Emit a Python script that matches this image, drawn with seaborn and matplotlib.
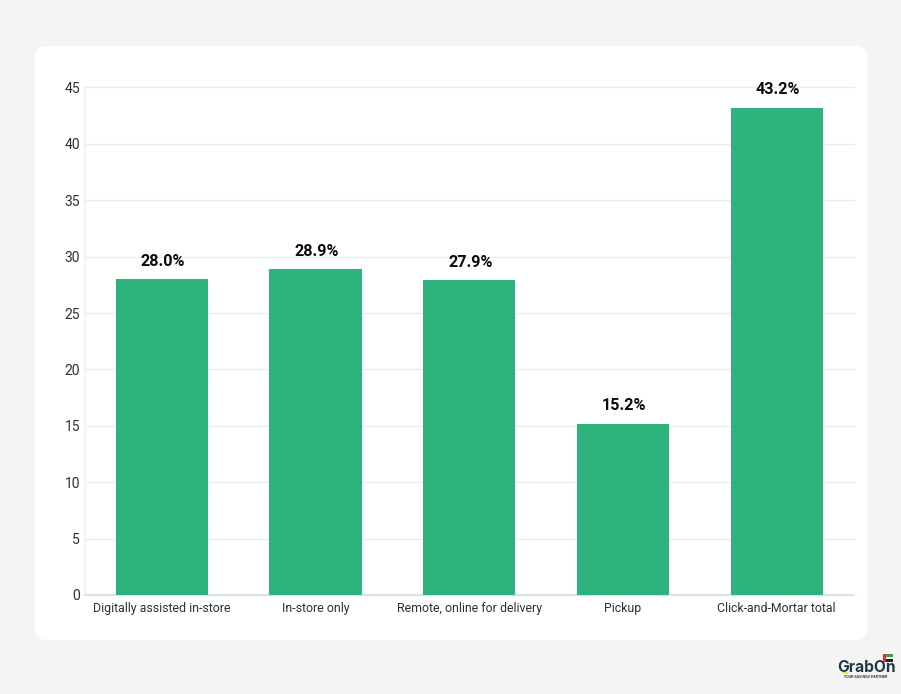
import matplotlib
matplotlib.use("Agg")
import matplotlib.pyplot as plt
from matplotlib.patches import FancyBboxPatch, Rectangle, Ellipse
import seaborn as sns
import pandas as pd

categories = ["Digitally assisted in-store", "In-store only", "Remote, online for delivery", "Pickup", "Click-and-Mortar total"]
shares = [28.0, 28.9, 27.9, 15.2, 43.2]
share_labels = ["28.0%", "28.9%", "27.9%", "15.2%", "43.2%"]
y_ticks = [0, 5, 10, 15, 20, 25, 30, 35, 40, 45]

W, H = 901, 694
sns.set_theme(style="white")
plt.rcParams["font.family"] = ["Roboto", "DejaVu Sans"]

fig = plt.figure(figsize=(W / 100, H / 100), dpi=100, facecolor="#f4f4f4")

# Rounded white card behind the plot
card = FancyBboxPatch((47 / W, 1 - 628 / H), 808 / W, 570 / H,
                      boxstyle="round,pad=0,rounding_size=0.001",
                      transform=fig.transFigure, fc="white", ec="none", zorder=-1)
card.set_boxstyle("round", pad=12 / W, rounding_size=12 / W)
card.set_mutation_aspect(W / H)
fig.add_artist(card)

ax = fig.add_axes([85 / W, 1 - 595 / H, 768.5 / W, 507.5 / H])
ax.patch.set_alpha(0)
data = pd.DataFrame({"category": categories, "share": shares})
sns.barplot(data=data, x="category", y="share", color="#2db37d", saturation=1,
            width=0.6, linewidth=0, ax=ax, zorder=3)

ax.set_xlim(-0.5, 4.5)
ax.set_ylim(0, 45)
ax.set_yticks(y_ticks)
ax.set_xlabel("")
ax.set_ylabel("")
ax.yaxis.grid(True, color="#e9ecef", linewidth=1)
for line in ax.get_ygridlines():
    line.set_clip_on(False)
ax.set_axisbelow(True)
for name in ("top", "right"):
    ax.spines[name].set_visible(False)
ax.spines["left"].set_color("#f0f1f3")
ax.spines["bottom"].set_color("#d5e3e3")
ax.tick_params(axis="y", length=0, pad=3.5, labelsize=10, labelcolor="#2e3134")
ax.tick_params(axis="x", length=0, pad=5, labelsize=8.9, labelcolor="#2e3134")

for i, (value, label) in enumerate(zip(shares, share_labels)):
    ax.annotate(label, (i, value), xytext=(1, 7.5), textcoords="offset points",
                ha="center", va="bottom", fontsize=11.6, fontweight="bold",
                color="#0b0b0b", family=["Roboto", "DejaVu Sans"])

# Brand mark in the lower right corner
fig.text(867 / W, 1 - 667 / H, "GrabOn", ha="center", va="center", fontsize=11.2,
         fontweight="bold", color="#1f3a44", family=["Inter", "DejaVu Sans"])
fig.text(866 / W, 1 - 677.5 / H, "YOUR SAVINGS PARTNER", ha="center", va="center",
         fontsize=2.6, fontweight="bold", color="#1f3a44")
fig.add_artist(Ellipse((845.5 / W, 1 - 673 / H), 7 / W, 2 / H,
                       transform=fig.transFigure, fc="#e8e23a", ec="none"))
for y0, colour in zip((654, 656.5, 659), ("#3a9a5b", "#f2f2f2", "#222222")):
    fig.add_artist(Rectangle((886 / W, 1 - (y0 + 2.5) / H), 7 / W, 2.5 / H,
                             transform=fig.transFigure, fc=colour, ec="none"))
fig.add_artist(Rectangle((883 / W, 1 - 661.5 / H), 3 / W, 7.5 / H,
                         transform=fig.transFigure, fc="#d8352a", ec="none"))

fig.savefig("out.png", dpi=100, facecolor=fig.get_facecolor())
